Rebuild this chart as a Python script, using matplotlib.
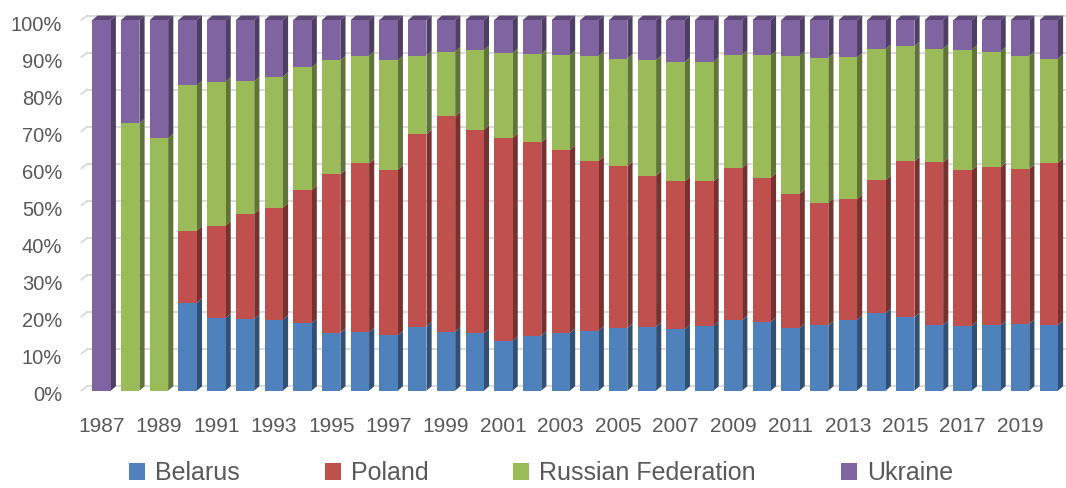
import numpy as np
import matplotlib
matplotlib.use("Agg")
import matplotlib.pyplot as plt
from matplotlib.patches import Polygon, Patch
from matplotlib.transforms import ScaledTranslation
from matplotlib.colors import to_rgb

plt.rcParams["font.family"] = ["Liberation Sans", "DejaVu Sans"]

years = list(range(1987, 2021))

belarus = [0, 0, 0, 23.7, 19.6, 19.3, 19.2, 18.2, 15.6, 15.8, 14.9, 17.3, 15.9, 15.5,
           13.5, 14.8, 15.6, 16.2, 16.9, 17.2, 16.6, 17.5, 19.0, 18.6, 16.9, 17.6,
           19.1, 20.9, 19.8, 17.7, 17.5, 17.6, 18.1, 17.7]
poland = [0, 0, 0, 19.5, 24.9, 28.4, 30.2, 35.9, 42.8, 45.5, 44.7, 51.9, 58.1, 54.9,
          54.7, 52.2, 49.3, 45.8, 43.7, 40.8, 39.9, 39.0, 41.1, 38.9, 36.2, 33.1,
          32.6, 35.9, 42.1, 43.9, 42.0, 42.7, 41.7, 43.8]
russia = [0, 72.1, 68.1, 39.2, 38.9, 35.8, 35.3, 33.1, 30.7, 29.1, 29.6, 21.2, 17.5, 21.5,
          22.9, 23.8, 25.7, 28.3, 29.0, 31.2, 32.2, 32.3, 30.5, 33.0, 37.3, 39.1,
          38.2, 35.4, 31.0, 30.7, 32.5, 31.2, 30.5, 28.1]
ukraine = [100, 27.9, 31.9, 17.6, 16.6, 16.5, 15.3, 12.8, 10.9, 9.6, 10.8, 9.6, 8.5, 8.1,
           8.9, 9.2, 9.4, 9.7, 10.4, 10.8, 11.3, 11.2, 9.4, 9.5, 9.6, 10.2,
           10.1, 7.8, 7.1, 7.7, 8.0, 8.5, 9.7, 10.4]

names = ["Belarus", "Poland", "Russian Federation", "Ukraine"]
colors = ["#4F81BD", "#C0504D", "#9BBB59", "#8064A2"]
yticks = [0, 10, 20, 30, 40, 50, 60, 70, 80, 90, 100]

data = np.array([belarus, poland, russia, ukraine], dtype=float)
data = data / data.sum(axis=0) * 100  # 100% stacked

def shade(c, f):
    r, g, b = to_rgb(c)
    return (r * f, g * f, b * f)

fig = plt.figure(figsize=(10.66, 4.88), dpi=100)
ax = fig.add_axes([0.0818, 0.1994, 0.9155, 0.7596])

x = np.arange(len(years))
w = 0.64
dx, dy = 0.18, 1.2
grid_c = "#d9d9d9"

# back wall gridlines
for v in yticks:
    ax.plot([-0.5, 33.5 + dx], [v + dy, v + dy], color=grid_c, lw=1.3, zorder=0, clip_on=False)
    ax.plot([-0.5 - 0.2, -0.5], [v, v + dy], color=grid_c, lw=1.3, zorder=0, clip_on=False)

bottom = np.zeros(len(years))
for vals, c, n in zip(data, colors, names):
    ax.bar(x, vals, w, bottom=bottom, color=c, label=n, zorder=2)
    for xi, b, h in zip(x, bottom, vals):
        if h <= 0:
            continue
        xr = xi + w / 2
        side = Polygon([(xr, b), (xr + dx, b + dy), (xr + dx, b + h + dy), (xr, b + h)],
                       closed=True, facecolor=shade(c, 0.62), edgecolor="none",
                       zorder=1.5, clip_on=False)
        ax.add_patch(side)
    bottom = bottom + vals

# top faces
for xi in x:
    top_c = colors[3] if data[3][xi] > 0 else colors[2]
    xl, xr = xi - w / 2, xi + w / 2
    ax.add_patch(Polygon([(xl, 100), (xl + dx, 100 + dy), (xr + dx, 100 + dy), (xr, 100)],
                         closed=True, facecolor=shade(top_c, 0.72), edgecolor="none",
                         zorder=1.6, clip_on=False))

ax.set_xlim(-0.5, 33.5)
ax.set_ylim(0, 100)
for s in ax.spines.values():
    s.set_visible(False)

ax.set_yticks(yticks)
ax.set_yticklabels([f"{v}%" for v in yticks])
ax.set_xticks(x[::2])
ax.set_xticklabels([str(y) for y in years[::2]])
ax.tick_params(axis="y", length=0, pad=18, labelsize=14.5, labelcolor="#595959")
ax.tick_params(axis="x", length=0, pad=19, labelsize=15, labelcolor="#595959")
for lab in ax.get_yticklabels():
    lab.set_transform(lab.get_transform() + ScaledTranslation(0, -3 / 100, fig.dpi_scale_trans))

handles = [Patch(facecolor=c, edgecolor="none") for c in colors]
leg = fig.legend(handles, names, loc="center", bbox_to_anchor=(0.5075, 0.03), ncol=4,
                 frameon=False, fontsize=18, handlelength=0.64, handleheight=0.64,
                 handletextpad=0.4, columnspacing=3.4, borderpad=0)
for t in leg.get_texts():
    t.set_color("#595959")

fig.savefig("out.png", dpi=100)
